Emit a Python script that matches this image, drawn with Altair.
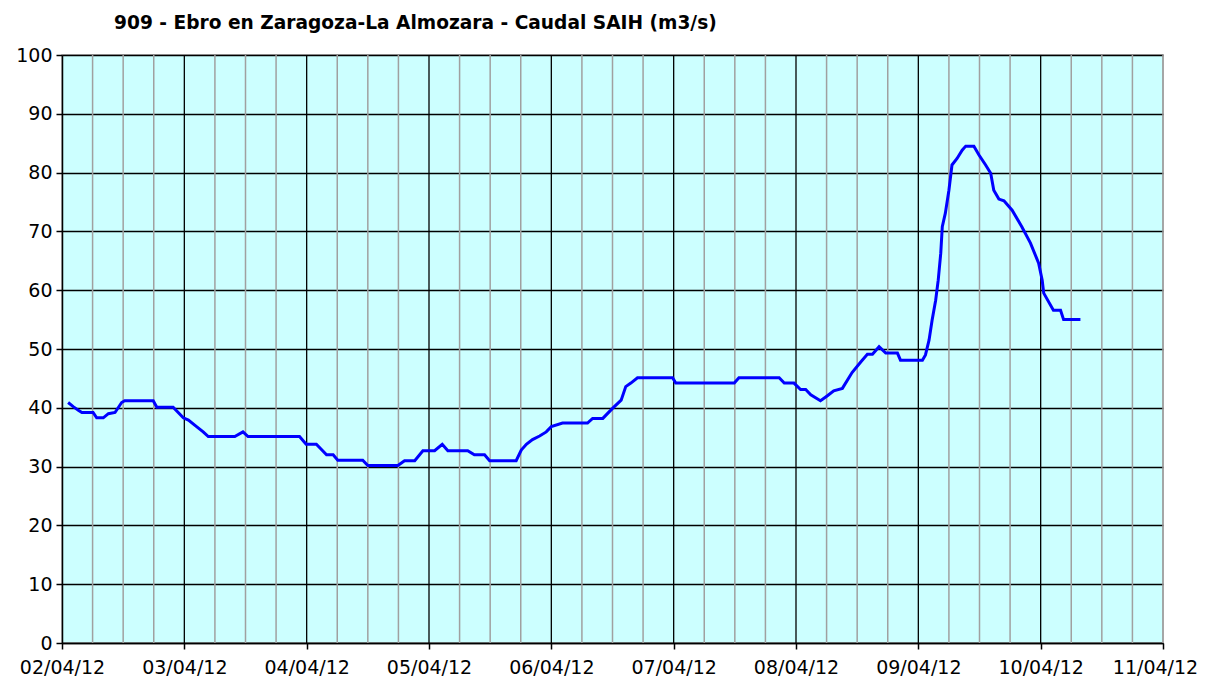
import altair as alt
import pandas as pd

# Hours elapsed since 02/04/12 00:00 and the river flow (m3/s) read at each point
hours = [1.2, 2.2, 3.2, 3.9, 6.1, 6.8, 8.1, 9.1, 10.4, 11.7, 12.3, 17.9, 18.6, 21.8,
         23.8, 24.8, 26.4, 27.7, 28.7, 33.9, 35.5, 36.5, 46.6, 47.9, 49.9, 51.9, 53.2,
         54.1, 59.0, 60.0, 65.9, 67.2, 69.2, 70.8, 73.1, 74.6, 75.7, 79.6, 80.9, 82.9,
         83.9, 89.1, 90.1, 91.1, 92.3, 93.7, 95.0, 96.0, 98.2, 103.1, 104.1, 106.1,
         108.0, 109.7, 110.6, 111.6, 112.9, 119.8, 120.4, 131.9, 132.8, 140.7, 141.7,
         143.6, 144.9, 145.9, 146.9, 148.8, 150.1, 151.4, 153.1, 155.0, 156.7, 158.0,
         159.0, 160.3, 161.6, 163.9, 164.5, 168.8, 169.4, 170.1, 170.7, 171.4, 171.9,
         172.4, 172.7, 173.3, 174.0, 174.6, 175.6, 176.6, 177.3, 178.9, 179.9, 181.2,
         182.2, 182.8, 183.8, 184.8, 186.4, 188.3, 190.0, 191.6, 192.3, 192.6, 194.5,
         195.9, 196.5, 199.8]
flow = [40.9, 40.2, 39.6, 39.2, 39.2, 38.3, 38.3, 39.0, 39.2, 40.9, 41.2, 41.2, 40.1, 40.1,
        38.3, 37.9, 36.8, 35.9, 35.1, 35.1, 35.9, 35.1, 35.1, 33.8, 33.8, 32.0, 32.0,
        31.1, 31.1, 30.2, 30.2, 31.0, 31.0, 32.7, 32.7, 33.8, 32.7, 32.7, 32.0, 32.0,
        31.0, 31.0, 32.8, 33.8, 34.6, 35.2, 35.9, 36.8, 37.4, 37.4, 38.2, 38.2,
        39.9, 41.3, 43.6, 44.2, 45.1, 45.1, 44.2, 44.2, 45.1, 45.1, 44.2,
        44.2, 43.1, 43.1, 42.2, 41.2, 42.0, 42.9, 43.3, 46.0, 47.8, 49.1,
        49.1, 50.4, 49.3, 49.3, 48.1, 48.1, 49.0, 51.5, 54.9, 58.3, 61.7,
        66.3, 70.8, 73.1, 77.0, 81.3, 82.4, 83.8, 84.5, 84.5, 83.0, 81.3,
        79.9, 77.0, 75.5, 75.2, 73.6, 70.8, 68.0, 64.6, 61.7, 59.5, 56.6,
        56.6, 55.0, 55.0]

start = pd.Timestamp("2012-04-02 00:00")
end = pd.Timestamp("2012-04-11 00:00")
y_ticks = list(range(0, 101, 10))
title_text = "909 - Ebro en Zaragoza-La Almozara - Caudal SAIH (m3/s)"

df = pd.DataFrame({
    "t": [(start + pd.Timedelta(hours=h)).strftime("%Y-%m-%dT%H:%M:%S") for h in hours],
    "q": flow,
})

grid_times = pd.date_range(start, end, freq="6h")
minor = pd.DataFrame({"t": [g.strftime("%Y-%m-%dT%H:%M:%S") for g in grid_times if g.hour != 0 or g == end]})
major = pd.DataFrame({"t": [g.strftime("%Y-%m-%dT%H:%M:%S") for g in grid_times if g.hour == 0 and start < g < end]})
day_ticks = [alt.DateTime(year=d.year, month=d.month, date=d.day) for d in pd.date_range(start, end, freq="D")]

xscale = alt.Scale(domain=[alt.DateTime(year=2012, month=4, date=2),
                           alt.DateTime(year=2012, month=4, date=11)], nice=False)
yscale = alt.Scale(domain=[0, 100], nice=False)

xaxis = alt.Axis(values=day_ticks, format="%d/%m/%y", title=None, grid=False,
                 labelFlush=False, labelOverlap=False, tickSize=6, labelPadding=9,
                 labelOffset={"condition": {"test": "datum.label == '11/04/12'", "value": -8},
                              "value": 0})
yaxis = alt.Axis(values=y_ticks, title=None, grid=True, gridColor="#000000",
                 gridWidth=1.3, gridOpacity=1, tickSize=6, labelPadding=4)

minor_rules = alt.Chart(minor).mark_rule(color="#a0a0a0", strokeWidth=1.5).encode(
    x=alt.X("t:T", scale=xscale, axis=xaxis)
)
major_rules = alt.Chart(major).mark_rule(color="#000000", strokeWidth=1.3).encode(
    x=alt.X("t:T", scale=xscale)
)
line = alt.Chart(df).mark_line(color="#0000ff", strokeWidth=3, interpolate="linear").encode(
    x=alt.X("t:T", scale=xscale),
    y=alt.Y("q:Q", scale=yscale, axis=yaxis),
)

chart = alt.layer(minor_rules, major_rules, line).properties(
    width=1101,
    height=588,
    title=alt.TitleParams(title_text, anchor="start", frame="group", dx=52, offset=13,
                          font="DejaVu Sans", fontSize=18.6, fontWeight="bold", color="#000000"),
    autosize=alt.AutoSizeParams(type="none"),
    padding={"left": 54, "top": 47, "right": 36, "bottom": 40},
    background="#ffffff",
).configure_view(
    fill="#ccffff", stroke="#a0a0a0", strokeWidth=1.5
).configure_axis(
    labelFont="DejaVu Sans", labelFontSize=19, labelColor="#000000",
    domainColor="#000000", domainWidth=1.5, tickColor="#000000", tickWidth=1.5,
)

chart.save("out.html", embed_options={"renderer": "svg", "actions": False})
